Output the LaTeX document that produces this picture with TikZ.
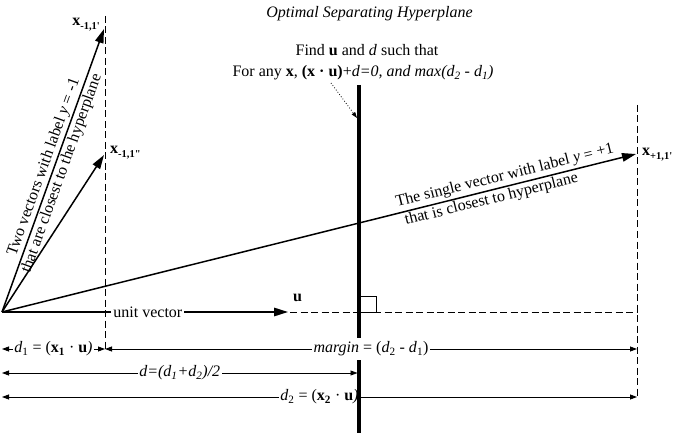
\documentclass[tikz,border=0pt]{standalone}
\usepackage{fontspec}
\setmainfont{Liberation Serif}
\usetikzlibrary{arrows.meta}
\newcommand{\xsubsc}[1]{\raisebox{-3.5bp}{\fontsize{10.5bp}{12bp}\selectfont\bfseries #1}}
\begin{document}
\begin{tikzpicture}[x=1bp,y=-1bp,
  font=\fontsize{16bp}{19bp}\selectfont,
  vec/.style={line width=1.5bp, -{Triangle[length=14bp,width=8.5bp]}},
  dimline/.style={line width=0.8bp, {Triangle[length=7bp,width=5bp]}-{Triangle[length=7bp,width=5bp]}},
  guide/.style={line width=0.9bp, dash pattern=on 7bp off 3.5bp},
  plain/.style={inner sep=0pt},
  dimlbl/.style={fill=white, inner xsep=1.5bp, inner ysep=3.5bp},
  hyper/.style={line width=3.2bp},
  pointer/.style={line width=0.8bp, dotted, -{Triangle[length=6bp,width=4bp]}}]
\useasboundingbox (0,0) rectangle (673,435);

% key points
\coordinate (O) at (2,312);
\coordinate (A1) at (104,29);
\coordinate (A2) at (104,155);
\coordinate (B) at (636,154);
\coordinate (U) at (288,312);
\coordinate (H1) at (359,85);
\coordinate (H2) at (359,433);
\coordinate (LT) at (105,16);
\coordinate (LB) at (105,350);
\coordinate (RT) at (637,105);
\coordinate (RB) at (637,397);
\coordinate (DS) at (290,312);
\coordinate (DE) at (637,312);

% title and statement
\node[plain, anchor=base] (title) at (369.5,18) {\textit{Optimal Separating Hyperplane}};
\node[plain, anchor=base] (find1) at (367,55.7) {Find \textbf{u} and \textit{d} such that};
\node[plain, anchor=base] (find2) at (363,76.7) {For any \textbf{x}, \textbf{(x · u)}+\textit{d=0, and max(d\textsubscript{2} - d\textsubscript{1})}};
\coordinate (P1) at (331,83);
\coordinate (P2) at (357,118);
\draw[pointer] (P1) -- (P2);

% dimension lines (lower rows)
\coordinate (r1a) at (2,349);
\coordinate (r1b) at (105,349);
\coordinate (r1c) at (637,349);
\coordinate (r2a) at (2,373);
\coordinate (r2b) at (357.5,373);
\coordinate (r3a) at (2,397);
\coordinate (r3b) at (637,397);
\draw[dimline] (r2a) -- node[dimlbl] (dl) {\textit{d=(d\textsubscript{1}+d\textsubscript{2})/2}} (r2b);
\draw[dimline] (r3a) -- node[dimlbl] (d2l) {\textit{d}\textsubscript{2} = (\textbf{x\textsubscript{2}} · \textbf{u}\textit{)}} (r3b);

% hyperplane
\draw[hyper] (H1) -- (H2);
\draw[line width=0.8bp] (360,296) rectangle (376,312);

% guide lines
\draw[guide] (DS) -- (DE);
\draw[guide] (LT) -- (LB);
\draw[guide] (RT) -- (RB);

% first dimension row (its label covers the hyperplane)
\draw[dimline] (r1a) -- node[dimlbl] (d1l) {\textit{d}\textsubscript{1} = (\textbf{x\textsubscript{1}} · \textbf{u}\textit{)}} (r1b);
\draw[dimline] (r1b) -- node[dimlbl] (ml) {\textit{margin} = (\textit{d}\textsubscript{2} - \textit{d}\textsubscript{1})} (r1c);

% vectors
\draw[vec] (O) -- node[sloped, align=center, inner sep=0pt] (lblA) {Two vectors with label \textit{y} = -1\\that are closest to the hyperplane} (A1);
\draw[vec] (O) -- (A2);
\draw[vec] (O) -- (B);
\draw[vec] (O) -- node[pos=0.51, fill=white, inner xsep=2bp, inner ysep=1bp] (uv) {unit vector} (U);

\node[plain, anchor=base west, rotate=14] (lblB1) at (397,207) {The single vector with label \textit{y} = +1};
\node[plain, anchor=base west, rotate=14] (lblB2) at (406,225) {that is closest to hyperplane};

% vector labels
\node[plain, anchor=base east] (xa) at (100,26) {\textbf{x}\xsubsc{-1,1\textquotesingle}};
\node[plain, anchor=base west] (xb) at (110,154) {\textbf{x}\xsubsc{-1,1\textquotedbl}};
\node[plain, anchor=base west] (xc) at (642,156) {\textbf{x}\xsubsc{+1,1\textquotesingle}};
\node[plain, anchor=base] (ul) at (297.5,302) {\textbf{u}};
\end{tikzpicture}
\end{document}
